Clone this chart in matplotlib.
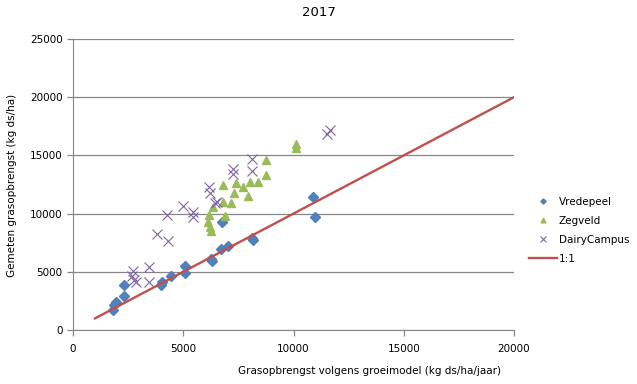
import numpy as np
import matplotlib
matplotlib.use('Agg')
import matplotlib.pyplot as plt

# Vredepeel
vp_x = [1810, 1860, 1950, 2310, 2310, 3990, 4040, 4440, 5080, 5080,
        6260, 6300, 6710, 7030, 8120, 8160, 6760, 10880, 10970]
vp_y = [1720, 2150, 2400, 2920, 3870, 3870, 4120, 4640, 5500, 4900,
        6100, 5930, 6960, 7220, 7900, 7730, 9280, 11430, 9710]

# Zegveld
zv_x = [6120, 6170, 6210, 6260, 6350, 6800, 6800, 6890, 7170, 7300,
        7390, 7710, 7940, 8030, 8390, 8750, 8750, 10110, 10110]
zv_y = [9280, 9880, 8850, 8510, 10570, 12460, 11000, 9790, 10910, 11770,
        12630, 12290, 11510, 12720, 12720, 13320, 14600, 15640, 15980]

# DairyCampus
dc_x = [2720, 3450, 2680, 2770, 2860, 3450, 3810, 4260, 4310, 4990,
        5440, 5440, 6170, 6210, 6440, 6530, 7260, 7260, 8120, 8120,
        11520, 11650]
dc_y = [5070, 5410, 4640, 4300, 4120, 4120, 8250, 9880, 7650, 10650,
        10140, 9710, 12290, 11770, 10910, 11000, 13830, 13400, 14690, 13660,
        16840, 17180]

# 1:1 lijn
lijn = [1000, 20000]

plt.rcParams['font.family'] = 'DejaVu Sans'
plt.rcParams['font.size'] = 7.5

fig = plt.figure(figsize=(6.37, 3.84), dpi=100)
ax = fig.add_axes([73/637, 1-330/384, 441/637, 291/384])

ax.plot(vp_x, vp_y, 'D', color='#4F81BD', ms=4.8, mec='#4F81BD', label='Vredepeel')
ax.plot(zv_x, zv_y, '^', color='#9BBB59', ms=6.3, mec='#9BBB59', label='Zegveld')
ax.plot(dc_x, dc_y, 'x', color='#8064A2', ms=6.8, mew=0.8, label='DairyCampus')
ax.plot(lijn, lijn, '-', color='#C0504D', lw=1.7, label='1:1')

ax.set_xlim(0, 20000)
ax.set_ylim(0, 25000)
ax.set_xticks(np.arange(0, 20001, 5000))
ax.set_yticks(np.arange(0, 25001, 5000))
ax.grid(axis='y', color='#868686', lw=0.9)
ax.set_axisbelow(True)
for s in ['top', 'right']:
    ax.spines[s].set_visible(False)
for s in ['left', 'bottom']:
    ax.spines[s].set_color('#868686')
ax.tick_params(colors='#868686', labelcolor='black', length=4, width=0.9)
ax.tick_params(axis='x', pad=6)

fig.text(0.5, 1-12/384, '2017', ha='center', va='center', fontsize=9.5)
fig.text(370/637, 1-371/384, 'Grasopbrengst volgens groeimodel (kg ds/ha/jaar)',
         ha='center', va='center')
fig.text(12/637, 1-185/384, 'Gemeten grasopbrengst (kg ds/ha)',
         ha='center', va='center', rotation=90)

fig.legend(loc='center left', bbox_to_anchor=(0.815, 0.40), frameon=False,
           handlelength=2.7, labelspacing=0.85, markerscale=0.55, handletextpad=0.2)

fig.savefig('out.png', dpi=100)
